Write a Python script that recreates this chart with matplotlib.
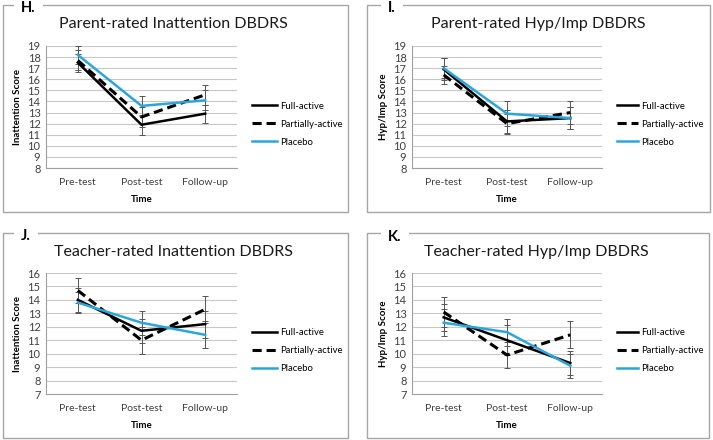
import matplotlib
matplotlib.use("Agg")
import matplotlib.pyplot as plt
from matplotlib.patches import Rectangle

plt.rcParams["font.family"] = ["Lato", "DejaVu Sans"]

# ---- data ----
time_points = ["Pre-test", "Post-test", "Follow-up"]
groups = ["Full-active", "Partially-active", "Placebo"]

h_full = [17.5, 11.9, 12.9]
h_full_err = [0.8, 0.9, 0.8]
h_partial = [17.7, 12.6, 14.6]
h_partial_err = [0.9, 0.9, 0.9]
h_placebo = [18.2, 13.6, 14.1]
h_placebo_err = [0.8, 0.9, 0.9]

i_full = [16.9, 12.2, 12.5]
i_full_err = [1.0, 1.0, 1.0]
i_partial = [16.4, 12.0, 13.0]
i_partial_err = [0.8, 0.9, 1.0]
i_placebo = [17.0, 12.9, 12.5]
i_placebo_err = [0.9, 1.1, 1.0]

j_full = [14.0, 11.7, 12.2]
j_full_err = [0.9, 0.9, 1.0]
j_partial = [14.7, 11.0, 13.3]
j_partial_err = [0.9, 1.0, 1.0]
j_placebo = [13.8, 12.3, 11.4]
j_placebo_err = [0.8, 0.9, 1.0]

k_full = [12.7, 11.0, 9.3]
k_full_err = [1.0, 1.1, 0.9]
k_partial = [13.1, 9.9, 11.4]
k_partial_err = [1.1, 1.0, 1.0]
k_placebo = [12.3, 11.6, 9.1]
k_placebo_err = [1.0, 1.0, 0.9]

W, H = 713, 440
fig = plt.figure(figsize=(W / 100, H / 100), dpi=100)

def px_rect(left, top, right, bottom):
    return [left / W, 1 - bottom / H, (right - left) / W, (bottom - top) / H]

styles = {
    "Full-active": dict(color="black", lw=1.8, ls="-"),
    "Partially-active": dict(color="black", lw=2.2, ls=(0, (3, 1.6))),
    "Placebo": dict(color="#2ba6dc", lw=1.8, ls="-"),
}

def panel(box, ax_rect, letter, letter_pos, title, title_pos, ylabel,
          ylim, series, errs, handle_len):
    # outer frame
    bl, bt, br, bb = box
    fig.patches.append(Rectangle((bl / W, 1 - bb / H), (br - bl) / W, (bb - bt) / H,
                                 transform=fig.transFigure, fill=False,
                                 edgecolor="#a6a6a6", lw=1.0))
    fig.text(letter_pos[0] / W, 1 - letter_pos[1] / H, letter, fontsize=10.5,
             fontweight="bold", ha="left", va="center",
             bbox=dict(facecolor="white", edgecolor="none", pad=5))
    fig.text(title_pos[0] / W, 1 - title_pos[1] / H, title, fontsize=11.5,
             ha="center", va="center", color="#1a1a1a")

    ax = fig.add_axes(px_rect(*ax_rect))
    x = range(len(time_points))
    for g, vals, err in zip(groups, series, errs):
        st = styles[g]
        ax.errorbar(x, vals, yerr=err, color=st["color"], lw=st["lw"], ls=st["ls"],
                    ecolor="#555555", elinewidth=0.7, capsize=2.5, capthick=0.7,
                    label=g)
    ax.set_xlim(-0.5, 2.5)
    ax.set_ylim(*ylim)
    ax.set_yticks(range(ylim[0], ylim[1] + 1))
    ax.set_xticks(list(x))
    ax.set_xticklabels(time_points)
    ax.yaxis.grid(True, color="#c8c8c8", lw=0.8)
    ax.set_axisbelow(True)
    for s in ["top", "right"]:
        ax.spines[s].set_visible(False)
    for s in ["left", "bottom"]:
        ax.spines[s].set_color("#a0a0a0")
        ax.spines[s].set_linewidth(0.8)
    ax.tick_params(axis="both", length=0, labelsize=7.5, colors="#404040", pad=4)
    ax.tick_params(axis="y", labelsize=8)
    ax.tick_params(axis="x", pad=7)
    ax.set_xlabel("Time", fontsize=7, fontweight="bold", labelpad=6)
    ax.set_ylabel(ylabel, fontsize=7, fontweight="bold", labelpad=4)

    handles, labels = ax.get_legend_handles_labels()
    handles = [h[0] for h in handles]
    ax.legend(handles, labels, loc="center left", bbox_to_anchor=(1.08, 0.36),
              frameon=False, fontsize=6.8, handlelength=handle_len,
              handletextpad=0.35, labelspacing=0.95, borderaxespad=0,
              borderpad=0)
    return ax

panel((3, 5, 348, 212), (46, 46, 237, 168), "H.", (21, 8),
      "Parent-rated Inattention DBDRS", (173, 24), "Inattention Score", (8, 19),
      [h_full, h_partial, h_placebo], [h_full_err, h_partial_err, h_placebo_err], 2.6)

panel((367, 5, 710, 212), (412, 46, 602, 168), "I.", (388, 8),
      "Parent-rated Hyp/Imp DBDRS", (538, 24), "Hyp/Imp Score", (8, 19),
      [i_full, i_partial, i_placebo], [i_full_err, i_partial_err, i_placebo_err], 2.2)

panel((3, 233, 348, 438), (46, 273, 237, 394), "J.", (21, 236),
      "Teacher-rated Inattention DBDRS", (173, 252), "Inattention Score", (7, 16),
      [j_full, j_partial, j_placebo], [j_full_err, j_partial_err, j_placebo_err], 2.6)

panel((367, 233, 709, 438), (412, 273, 602, 394), "K.", (388, 237),
      "Teacher-rated Hyp/Imp DBDRS", (536, 252), "Hyp/Imp Score", (7, 16),
      [k_full, k_partial, k_placebo], [k_full_err, k_partial_err, k_placebo_err], 2.2)

fig.savefig("out.png", dpi=100, facecolor="white")
